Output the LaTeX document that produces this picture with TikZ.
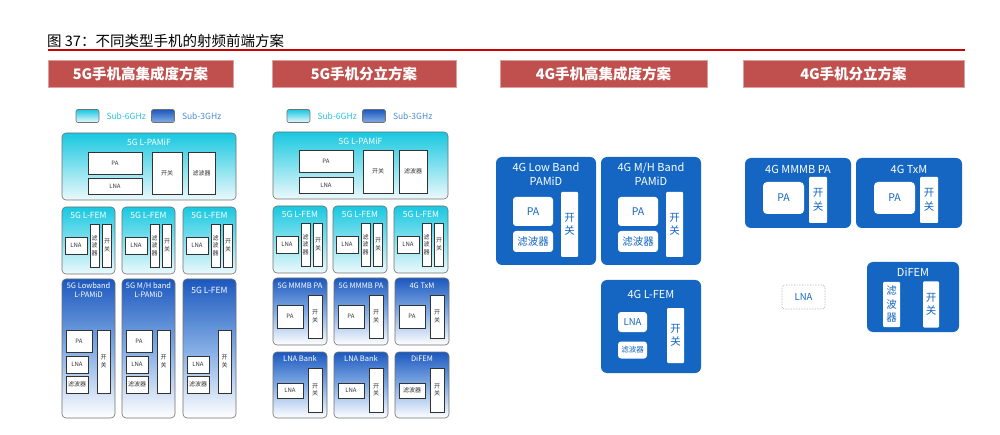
\documentclass[tikz,border=0pt]{standalone}
\usepackage{fontspec}
\setmainfont{Noto Sans CJK SC}
\usepackage{tikz}
\usetikzlibrary{positioning,scopes}
\definecolor{hdrred}{RGB}{192,80,77}
\definecolor{linered}{RGB}{204,0,0}
\definecolor{cyantop}{RGB}{24,200,224}
\definecolor{cyanbot}{RGB}{236,249,252}
\definecolor{bluetop}{RGB}{28,88,190}
\definecolor{bluemid}{RGB}{130,172,228}
\definecolor{solidblue}{RGB}{20,102,194}
\definecolor{edgegray}{RGB}{112,112,112}
\definecolor{labgray}{RGB}{51,51,51}
\definecolor{legcyan}{RGB}{40,196,226}
\definecolor{legblue}{RGB}{70,140,210}

\begin{document}
\begin{tikzpicture}[x=1pt,y=-1pt,
  sz/.style 2 args={minimum width=#1pt,minimum height=#2pt},
  hdr/.style={fill=hdrred,draw=hdrred!55,line width=0.6pt,inner sep=0pt,text=white,
    font=\fontsize{14.5}{16}\selectfont\bfseries},
  sixg/.style={draw=edgegray,line width=0.6pt,rounded corners=4pt,
    top color=cyantop,bottom color=cyanbot,inner sep=0pt},
  threeg/.style={draw=edgegray,line width=0.6pt,rounded corners=4pt,
    top color=bluetop,bottom color=white,middle color=bluemid,inner sep=0pt},
  part/.style={draw=labgray,line width=0.5pt,fill=white,inner sep=0pt,align=center,
    text=labgray,font=\fontsize{6}{7.5}\selectfont},
  ttl/.style={text=white,inner sep=0pt,align=center,font=\fontsize{8.5}{9.5}\selectfont},
  swatch/.style={draw=edgegray,line width=0.6pt,rounded corners=2pt,sz={23}{13},inner sep=0pt},
  legtxt/.style={anchor=west,inner sep=0pt,font=\fontsize{8.5}{10}\selectfont},
  fourg/.style={fill=solidblue,rounded corners=6pt,inner sep=0pt},
  chip/.style={fill=white,rounded corners=3pt,inner sep=0pt,align=center,
    text=solidblue,font=\fontsize{10.5}{13.5}\selectfont},
  ttlf/.style={text=white,inner sep=0pt,align=center,font=\fontsize{11}{14}\selectfont}]
  \useasboundingbox (0,0) rectangle (1000,435);

  % title and rule
  \node[anchor=west,inner sep=0pt,font=\fontsize{14.5}{16}\selectfont] (fig) at (47,41)
    {图 37：不同类型手机的射频前端方案};
  \coordinate (rl) at (48,50);
  \coordinate (rr) at (965,50);
  \draw[linered,line width=1.2pt] (rl) -- (rr);

  \node[hdr,sz={185}{27}] (h5a) at (140.5,73.5) {5G手机高集成度方案};
  \node[hdr,sz={184}{27}] (h5b) at (364,73.5) {5G手机分立方案};
  \node[hdr,sz={207}{27}] (h4a) at (603.5,73.5) {4G手机高集成度方案};
  \node[hdr,sz={221}{27}] (h4b) at (853.5,73.5) {4G手机分立方案};

  % legends
  \foreach \i/\x in {a/76,b/287} {
    \node[swatch,top color=cyantop,bottom color=cyanbot] (s6\i) at ({\x+11.5},116) {};
    \node[legtxt,text=legcyan,right=7pt of s6\i] (t6\i) {Sub-6GHz};
    \node[swatch,top color=bluetop,bottom color=bluemid] (s3\i) at ({\x+87},116) {};
    \node[legtxt,text=legblue,right=7pt of s3\i] (t3\i) {Sub-3GHz};
  }

  % 5G integrated / discrete: L-PAMiF
  {[every node/.append style={}]
    \node[sixg,sz={174}{67}] (pamifa) at (149,166.5) {};
    \node[ttl,below=6pt of pamifa.north] (pamifta) {5G L-PAMiF};
    \node[part,sz={54}{22}] (pamifpaa) at (115,163) {PA};
    \node[part,sz={54}{16}] (pamiflnaa) at (115,186) {LNA};
    \node[part,sz={30}{42}] (pamifswa) at (167,173) {开关};
    \node[part,sz={27}{42}] (pamiffla) at (201.5,173) {滤波器};

    \node[sixg,sz={175}{67}] (pamifb) at (360.5,165.5) {};
    \node[ttl,below=6pt of pamifb.north] (pamiftb) {5G L-PAMiF};
    \node[part,sz={54}{22}] (pamifpab) at (326,161) {PA};
    \node[part,sz={54}{16}] (pamiflnab) at (326,185) {LNA};
    \node[part,sz={30}{43}] (pamifswb) at (378,171.5) {开关};
    \node[part,sz={28}{43}] (pamifflb) at (413,171.5) {滤波器};
  }

  % L-FEM rows
  \foreach \i/\L/\w/\y in {1/62/53/240.5,2/122/53/240.5,3/183/53/240.5,
                           4/273/54/239.5,5/333/54/239.5,6/394/54/239.5} {
    \node[sixg,sz={\w}{67}] (fem\i) at ({\L+\w/2},\y) {};
    \node[ttl,below=5pt of fem\i.north] (femt\i) {5G L-FEM};
    \node[part,sz={22}{17}] (femlna\i) at ({\L+14},{\y+5}) {LNA};
    \node[part,sz={9}{43}] (femfl\i) at ({\L+32.5},{\y+5}) {滤\\波\\器};
    \node[part,sz={9}{43}] (femsw\i) at ({\L+45},{\y+5}) {开\\关};
  }

  % 5G integrated: sub-3GHz modules
  \foreach \i/\L/\t in {1/62/{5G Lowband},2/122/{5G M/H band}} {
    \node[threeg,sz={53}{139}] (pamid\i) at ({\L+26.5},348.5) {};
    \node[ttl,font=\fontsize{7.5}{9}\selectfont,below=4pt of pamid\i.north] (pamidt\i) {\t\\L-PAMiD};
    \node[part,sz={26}{22}] (pamidpa\i) at ({\L+17},341) {PA};
    \node[part,sz={22}{17}] (pamidlna\i) at ({\L+15},364.5) {LNA};
    \node[part,sz={22}{17}] (pamidfl\i) at ({\L+15},384.5) {滤波器};
    \node[part,sz={13}{63}] (pamidsw\i) at ({\L+41.5},361.5) {开\\关};
  }
  \node[threeg,sz={53}{139}] (lfem) at (209.5,348.5) {};
  \node[ttl,below=8pt of lfem.north] (lfemt) {5G L-FEM};
  \node[part,sz={22}{17}] (lfemlna) at (198,364.5) {LNA};
  \node[part,sz={22}{17}] (lfemfl) at (198,384.5) {滤波器};
  \node[part,sz={13}{63}] (lfemsw) at (224.5,361.5) {开\\关};

  % 5G discrete: sub-3GHz modules
  \foreach \i/\L/\t in {1/273/5G MMMB PA,2/334/5G MMMB PA,3/395/4G TxM} {
    \node[threeg,sz={54}{67}] (pam\i) at ({\L+27},311.5) {};
    \node[ttl,font=\fontsize{7.5}{9}\selectfont,below=5pt of pam\i.north] (pamt\i) {\t};
    \node[part,sz={26}{23}] (pampa\i) at ({\L+17},316.5) {PA};
    \node[part,sz={14}{43}] (pamsw\i) at ({\L+42},316.5) {开\\关};
  }
  \foreach \i/\L/\t/\c in {1/273/LNA Bank/LNA,2/334/LNA Bank/LNA,3/395/DiFEM/滤波器} {
    \node[threeg,sz={54}{66}] (bank\i) at ({\L+27},385) {};
    \node[ttl,font=\fontsize{7.5}{9}\selectfont,below=4pt of bank\i.north] (bankt\i) {\t};
    \node[part,sz={26}{15}] (bankin\i) at ({\L+17},390.5) {\c};
    \node[part,sz={14}{44}] (banksw\i) at ({\L+42},390) {开\\关};
  }

  % 4G integrated
  \foreach \i/\x/\t in {lb/546/{4G Low Band},mh/651/{4G M/H Band}} {
    \node[fourg,sz={100}{108}] (\i) at (\x,211) {};
    \node[ttlf,below=6pt of \i.north] (\i t) {\t\\PAMiD};
    \node[chip,sz={40}{29}] (\i pa) at ({\x-13},211.5) {PA};
    \node[chip,sz={40}{21}] (\i fl) at ({\x-13},241.5) {滤波器};
    \node[chip,sz={17}{65},rounded corners=1pt] (\i sw) at ({\x+23.5},224.5) {开\\关};
  }
  \node[fourg,sz={100}{93}] (fem4) at (651,326.5) {};
  \node[ttlf,below=10pt of fem4.north] (fem4t) {4G L-FEM};
  \node[chip,sz={29}{20},font=\fontsize{9.5}{11}\selectfont] (fem4lna) at (632.5,322) {LNA};
  \node[chip,sz={29}{17},font=\fontsize{7.5}{9}\selectfont] (fem4fl) at (632.5,350) {滤波器};
  \node[chip,sz={17}{55},rounded corners=1pt] (fem4sw) at (675.5,335.5) {开\\关};

  % 4G discrete
  \foreach \i/\x/\t in {mmmb/798/4G MMMB PA,txm/909/4G TxM} {
    \node[fourg,sz={106}{70}] (\i) at (\x,193) {};
    \node[ttlf,below=7pt of \i.north] (\i t) {\t};
    \node[chip,sz={41}{32},rounded corners=4pt] (\i pa) at ({\x-14.5},198) {PA};
    \node[chip,sz={18}{46},rounded corners=1pt] (\i sw) at ({\x+20},200) {开\\关};
  }
  \node[fourg,sz={92}{70}] (difem) at (913,297) {};
  \node[ttlf,below=6pt of difem.north] (difemt) {DiFEM};
  \node[chip,sz={17}{45},rounded corners=1pt] (difemfl) at (891.5,304.5) {滤\\波\\器};
  \node[chip,sz={16}{46},rounded corners=1pt] (difemsw) at (931,304.5) {开\\关};
  \node[chip,draw=gray!70,densely dotted,line width=0.6pt,sz={43}{24},
    font=\fontsize{9.5}{11}\selectfont] (lnax) at (803.5,297) {LNA};
\end{tikzpicture}
\end{document}
